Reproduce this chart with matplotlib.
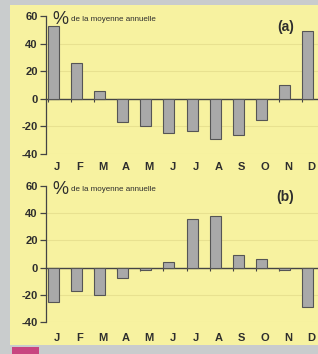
import matplotlib
matplotlib.use("Agg")
import matplotlib.pyplot as plt
from matplotlib.patches import Rectangle

plt.rcParams["font.family"] = ["Liberation Sans", "DejaVu Sans"]
plt.rcParams["axes.unicode_minus"] = False

months = ["J", "F", "M", "A", "M", "J", "J", "A", "S", "O", "N", "D"]
values_a = [53, 26, 6, -17, -20, -25, -23, -29, -26, -15, 10, 49]
values_b = [-25, -17, -20, -8, -1.5, 4, 36, 38, 9, 6, -2, -29]
panel_labels = ["(a)", "(b)"]
yticks = [-40, -20, 0, 20, 40, 60]

W, H = 318, 354
fig = plt.figure(figsize=(W / 100, H / 100), dpi=100)
fig.patch.set_facecolor("#c9cccd")

# yellow panel
fig.patches.append(Rectangle((10 / W, 1 - 345 / H), (W - 10) / W, (345 - 5) / H,
                             transform=fig.transFigure, facecolor="#f7f2a0",
                             edgecolor="none", zorder=-10))
# pink marker
fig.patches.append(Rectangle((12 / W, 0), 27 / W, 7 / H,
                             transform=fig.transFigure, facecolor="#c84580",
                             edgecolor="none", zorder=-10))

txt_col = "#2e2e2e"
x = list(range(len(months)))

def panel(rect, vals, label, label_pad):
    ax = fig.add_axes(rect)
    ax.set_zorder(5)
    ax.set_facecolor("none")
    ax.set_xlim(-0.32, 11.45)
    ax.set_ylim(-40, 60)
    for yv in [-40, -20, 20, 40]:
        ax.axhline(yv, color="#e8e190", lw=0.8, zorder=0)
    ax.bar(x, vals, width=0.48, color="#a9a9a9", edgecolor="#555555",
           linewidth=0.8, zorder=2)
    for s in ["top", "right", "bottom"]:
        ax.spines[s].set_visible(False)
    ax.spines["left"].set_color("#444444")
    ax.spines["left"].set_linewidth(0.9)
    ax.set_yticks(yticks)
    ax.set_yticklabels([str(v) for v in yticks], fontsize=8, fontweight="bold",
                       color=txt_col)
    ax.tick_params(axis="y", direction="out", length=4, width=0.9,
                   color="#444444", pad=2)
    ax.set_xticks([i + 0.15 for i in x])
    ax.set_xticklabels(months, fontsize=8, fontweight="bold", color=txt_col)
    ax.tick_params(axis="x", length=0, pad=label_pad)
    # zero line with small boundary ticks
    sec = ax.secondary_xaxis(0.4)
    sec.spines["bottom"].set_color("#444444")
    sec.spines["bottom"].set_linewidth(1.0)
    sec.set_xticks([i - 0.24 for i in x])
    sec.set_xticklabels([])
    sec.tick_params(axis="x", direction="out", length=2.5, width=0.8,
                    color="#444444")
    ax.text(0.025, 0.975, "%", transform=ax.transAxes, fontsize=13,
            color=txt_col, va="center", ha="left")
    ax.text(0.092, 0.975, "de la moyenne annuelle", transform=ax.transAxes,
            fontsize=5.8, color=txt_col, va="center", ha="left")
    ax.text(0.88, 0.92, label, transform=ax.transAxes, fontsize=10,
            fontweight="bold", color=txt_col, va="center", ha="center")
    return ax

panel([46 / W, 1 - 154 / H, (W - 46) / W, 138 / H], values_a, panel_labels[0], 6)
panel([46 / W, 1 - 322 / H, (W - 46) / W, 136 / H], values_b, panel_labels[1], 8)

fig.savefig("out.png", dpi=100, facecolor=fig.get_facecolor())
